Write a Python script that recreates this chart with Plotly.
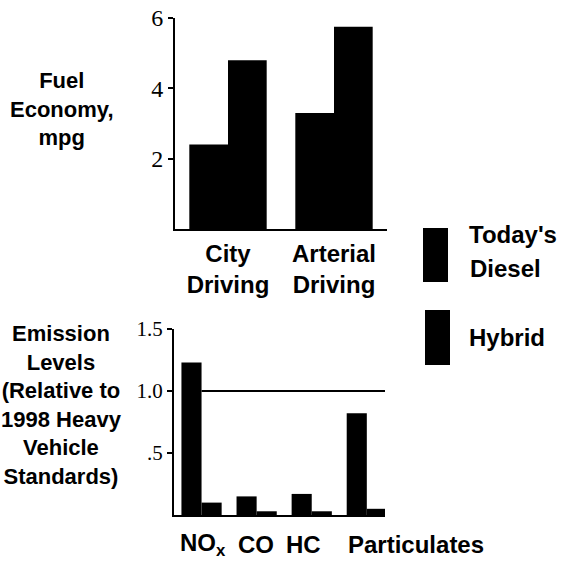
import plotly.graph_objects as go

# ---- data ----
fuel_categories = ["City<br>Driving", "Arterial<br>Driving"]
fuel_diesel = [2.4, 3.3]
fuel_hybrid = [4.8, 5.75]
fuel_ticks = [2, 4, 6]

emission_categories = ["NOx", "CO", "HC", "Particulates"]
emission_labels = ["NO<sub>x</sub>", "CO", "HC", "Particulates"]
emission_diesel = [1.23, 0.15, 0.17, 0.82]
emission_hybrid = [0.10, 0.03, 0.03, 0.05]
emission_ticks = [0.5, 1.0, 1.5]
emission_ticktext = [".5", "1.0", "1.5"]
standard_level = 1.0

series_names = ["Today's Diesel", "Hybrid"]

W, H = 562, 567
def px(x):
    return x / W
def py(y):
    return 1 - y / H

SANS = "Liberation Sans"
SERIF = "Liberation Serif"
BLACK = "#000000"

fig = go.Figure()
fig.add_trace(go.Bar(x=fuel_categories, y=fuel_diesel, name=series_names[0],
                     marker=dict(color=BLACK, line=dict(width=0)), xaxis="x", yaxis="y"))
fig.add_trace(go.Bar(x=fuel_categories, y=fuel_hybrid, name=series_names[1],
                     marker=dict(color=BLACK, line=dict(width=0)), xaxis="x", yaxis="y"))
fig.add_trace(go.Bar(x=emission_categories, y=emission_diesel, name=series_names[0],
                     marker=dict(color=BLACK, line=dict(width=0)), xaxis="x2", yaxis="y2"))
fig.add_trace(go.Bar(x=emission_categories, y=emission_hybrid, name=series_names[1],
                     marker=dict(color=BLACK, line=dict(width=0)), xaxis="x2", yaxis="y2"))

x2_end = 3.33

fig.update_layout(
    width=W, height=H,
    margin=dict(l=0, r=0, t=0, b=0, autoexpand=False),
    paper_bgcolor="white", plot_bgcolor="white",
    showlegend=False,
    barmode="group", bargap=0.27, bargroupgap=0,
    xaxis=dict(domain=[px(175), px(387)], anchor="y", type="category",
               range=[-0.5, 1.5], showline=True, linecolor=BLACK, linewidth=2,
               ticks="", showgrid=False, zeroline=False, automargin=False,
               tickfont=dict(family=SANS, size=24, color=BLACK, weight="bold"),
               ticklabelstandoff=2),
    yaxis=dict(domain=[py(229), py(18)], anchor="x", range=[0, 6],
               tickvals=fuel_ticks, showline=True, linecolor=BLACK, linewidth=2,
               ticks="outside", ticklen=5, tickwidth=2, tickcolor=BLACK,
               showgrid=False, zeroline=False, automargin=False,
               tickfont=dict(family=SERIF, size=24, color=BLACK)),
    xaxis2=dict(domain=[px(174), px(385)], anchor="y2", type="category",
                range=[-0.5, x2_end], showline=True, linecolor=BLACK, linewidth=2,
                ticks="", showticklabels=False, showgrid=False, zeroline=False,
                automargin=False),
    yaxis2=dict(domain=[py(515), py(329)], anchor="x2", range=[0, 1.5],
                tickvals=emission_ticks, ticktext=emission_ticktext,
                showline=True, linecolor=BLACK, linewidth=2,
                ticks="outside", ticklen=5, tickwidth=1.5, tickcolor=BLACK,
                showgrid=False, zeroline=False, automargin=False,
                tickfont=dict(family=SERIF, size=21, color=BLACK)),
)

# standard reference line
fig.add_shape(type="line", xref="x2", yref="y2", x0=0, x1=x2_end,
              y0=standard_level, y1=standard_level,
              line=dict(color=BLACK, width=2), layer="below")

# legend swatches
fig.add_shape(type="rect", xref="paper", yref="paper",
              x0=px(423), x1=px(448), y0=py(282), y1=py(228),
              fillcolor=BLACK, line=dict(width=0))
fig.add_shape(type="rect", xref="paper", yref="paper",
              x0=px(425), x1=px(450), y0=py(365), y1=py(310),
              fillcolor=BLACK, line=dict(width=0))

def ann(text, x, y, xanchor="center", size=24):
    fig.add_annotation(text=text, xref="paper", yref="paper", x=px(x), y=py(y),
                       xanchor=xanchor, yanchor="middle", showarrow=False,
                       align="center",
                       font=dict(family=SANS, size=size, color=BLACK, weight="bold"))

# legend text
ann("Today's", 467, 234, "left")
ann("Diesel", 468, 268, "left")
ann("Hybrid", 467, 337, "left")

# left titles
ann("Fuel<br>Economy,<br>mpg", 62, 109, size=22)
ann("Emission<br>Levels<br>(Relative to<br>1998 Heavy<br>Vehicle<br>Standards)", 61, 405, size=22)

# bottom category labels
for t, x in zip(emission_labels, [178, 236, 284, 346]):
    ann(t, x, 544, "left")

fig.write_html("out.html",
               config={"displayModeBar": False},
               post_script="document.body.style.margin='0';document.body.style.padding='0';")
